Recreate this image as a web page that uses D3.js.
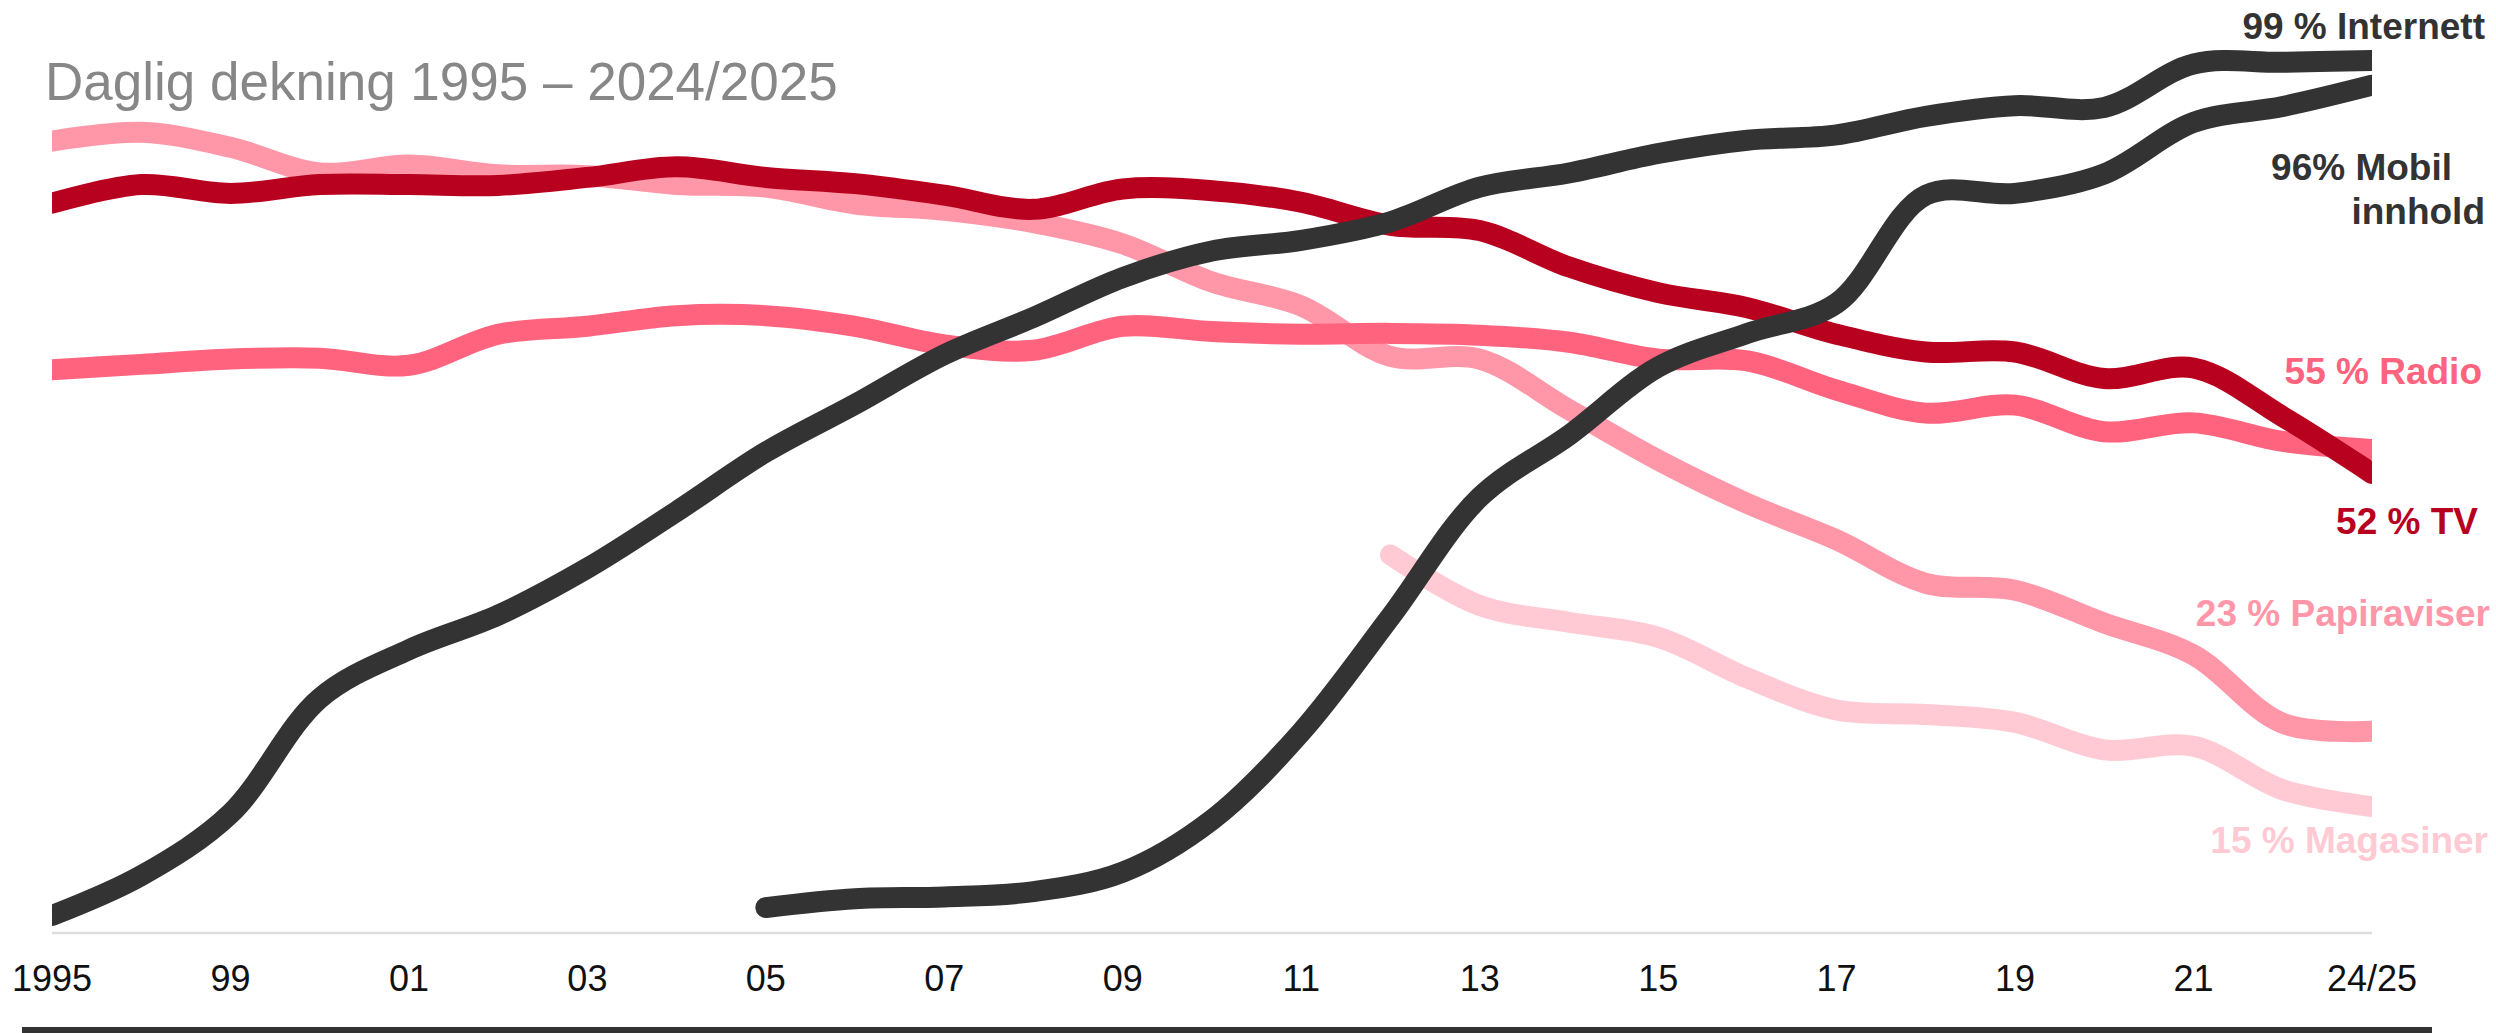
<!DOCTYPE html>
<html>
<head>
<meta charset="utf-8">
<script src="https://cdn.jsdelivr.net/npm/d3@7"></script>
<style>
  body { margin: 0; background: #fff; }
  svg { display: block; font-family: "Liberation Sans", Arial, Helvetica, sans-serif; }
</style>
</head>
<body>
<svg id="chart"></svg>
<script>
const width = 2496;
const height = 1033;

// years on the x axis (1995 -> 1997 -> 1999 -> every year -> 2024/25)
const years = ["1995", "1997", "1999", "2000", "2001", "2002", "2003", "2004", "2005",
  "2006", "2007", "2008", "2009", "2010", "2011", "2012", "2013", "2014", "2015",
  "2016", "2017", "2018", "2019", "2020", "2021", "2022", "2024/25"];
const tickLabels = ["1995", "99", "01", "03", "05", "07", "09", "11", "13", "15", "17", "19", "21", "24/25"];

// daily reach in percent
const tv = [82.9, 85.0, 84.0, 85.0, 85.0, 84.9, 85.8, 87.0, 85.8, 85.1, 83.8, 82.2, 84.5, 84.3,
  83.0, 80.4, 79.8, 75.7, 72.8, 71.1, 68.1, 66.1, 66.1, 63.1, 64.3, 58.8, 52.4];
const radio = [64.1, 64.7, 65.3, 65.4, 64.6, 68.1, 69.0, 70.2, 70.2, 69.0, 66.9, 66.3, 69.0, 68.4,
  68.1, 68.2, 68.0, 67.2, 65.3, 65.1, 61.8, 59.2, 60.1, 57.1, 58.1, 56.0, 55.1];
const papiraviser = [89.9, 90.9, 89.2, 86.3, 87.2, 86.1, 86.0, 85.0, 84.7, 82.8, 82.1, 80.7, 78.3, 74.0,
  71.3, 65.6, 65.3, 59.6, 53.9, 49.0, 44.9, 40.0, 39.2, 35.5, 31.9, 24.2, 23.3];
const magasiner = [null, null, null, null, null, null, null, null, null, null, null, null, null, null, null,
  43.2, 37.5, 35.6, 33.9, 29.3, 25.7, 25.2, 24.3, 21.2, 21.6, 16.7, 14.8];
const internett = [2.5, 7.0, 14.0, 27.0, 32.5, 36.4, 41.7, 48.1, 54.8, 60.2, 65.8, 70.0, 74.5, 77.5,
  78.7, 80.8, 84.7, 86.3, 88.5, 90.0, 90.6, 92.7, 93.9, 93.7, 98.6, 98.8, 99.0];
const mobil = [null, null, null, null, null, null, null, null,
  3.4, 4.4, 4.6, 5.2, 7.4, 13.3, 23.2, 36.2, 49.7, 56.7, 64.4, 68.2, 71.6, 83.8, 84.0, 86.2, 92.0, 93.8, 96.2];

// drawing order: back to front
const series = [
  { key: "mag", values: magasiner, color: "#ffcad3" },
  { key: "papir", values: papiraviser, color: "#ff97a8" },
  { key: "radio", values: radio, color: "#ff637d" },
  { key: "tv", values: tv, color: "#b8001f" },
  { key: "mobil", values: mobil, color: "#333333" },
  { key: "internett", values: internett, color: "#333333" }
];

const endLabels = [
  { lines: ["99 % Internett"], color: "#333333", x: 2485, y: 39 },
  { lines: ["96% Mobil"], color: "#333333", x: 2452, y: 180 },
  { lines: ["innhold"], color: "#333333", x: 2485, y: 224 },
  { lines: ["55 % Radio"], color: "#ff637d", x: 2482, y: 384 },
  { lines: ["52 % TV"], color: "#b8001f", x: 2478, y: 534 },
  { lines: ["23 % Papiraviser"], color: "#ff97a8", x: 2490, y: 626 },
  { lines: ["15 % Magasiner"], color: "#ffcad3", x: 2488, y: 853 }
];

const x = d3.scalePoint().domain(years).range([52, 2372]);
const y = d3.scaleLinear().domain([0, 100]).range([937.7, 51.6]);

const svg = d3.select("#chart")
  .attr("width", width)
  .attr("height", height);

svg.append("text")
  .attr("x", 45)
  .attr("y", 100)
  .attr("font-size", 53)
  .attr("fill", "#878787")
  .text("Daglig dekning 1995 \u2013 2024/2025");

// grey base line
svg.append("line")
  .attr("x1", x.range()[0])
  .attr("x2", x.range()[1])
  .attr("y1", 933)
  .attr("y2", 933)
  .attr("stroke", "#dedede")
  .attr("stroke-width", 2.5);

// dark bar along the bottom edge
svg.append("rect")
  .attr("x", 22)
  .attr("y", 1027)
  .attr("width", 2432 - 22)
  .attr("height", 6)
  .attr("fill", "#333333");

// tick labels, every second year category
const tickYears = years.filter((d, i) => i % 2 === 0);
svg.append("g")
  .selectAll("text")
  .data(tickYears)
  .enter().append("text")
    .attr("x", d => x(d))
    .attr("y", 991)
    .attr("text-anchor", "middle")
    .attr("font-size", 36)
    .attr("fill", "#111")
    .text((d, i) => tickLabels[i]);

svg.append("defs").append("clipPath")
  .attr("id", "plotClip")
  .append("rect")
    .attr("x", x.range()[0])
    .attr("y", 0)
    .attr("width", x.range()[1] - x.range()[0])
    .attr("height", height);

const line = d3.line()
  .defined(d => d != null)
  .x((d, i) => x(years[i]))
  .y(d => y(d))
  .curve(d3.curveCatmullRom.alpha(0.5));

svg.append("g")
  .attr("clip-path", "url(#plotClip)")
  .selectAll("path")
  .data(series)
  .enter().append("path")
    .attr("d", s => line(s.values))
    .attr("fill", "none")
    .attr("stroke", s => s.color)
    .attr("stroke-width", 21)
    .attr("stroke-linecap", "round")
    .attr("stroke-linejoin", "round");

svg.append("g")
  .selectAll("text")
  .data(endLabels)
  .enter().append("text")
    .attr("x", d => d.x)
    .attr("y", d => d.y)
    .attr("text-anchor", "end")
    .attr("font-size", 37)
    .attr("font-weight", "bold")
    .attr("fill", d => d.color)
    .text(d => d.lines[0]);
</script>
</body>
</html>
